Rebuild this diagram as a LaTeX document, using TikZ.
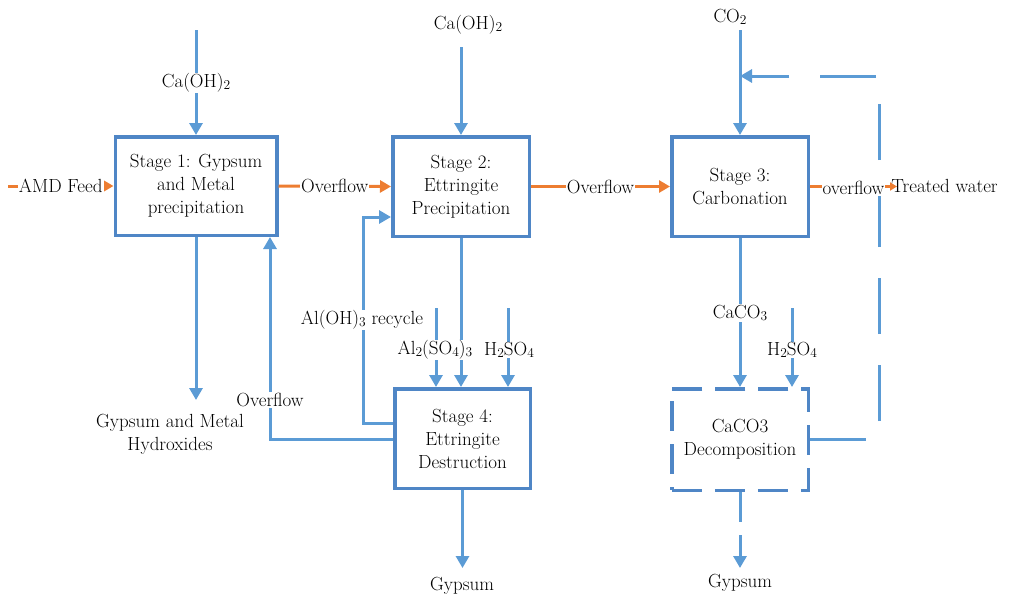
\documentclass[tikz,border=0pt]{standalone}
\usepackage{fontspec}
\usetikzlibrary{arrows.meta}
\definecolor{lineblue}{HTML}{5B9BD5}
\definecolor{boxblue}{HTML}{4F86C6}
\definecolor{orng}{HTML}{ED7D31}
\newcommand\lowsub[1]{\raisebox{-1.5pt}{\fontsize{13.5}{13.5}\selectfont #1}}
\begin{document}
\begin{tikzpicture}[x=1pt,y=-1pt,
  txt/.style={font=\fontsize{19}{23}\selectfont},
  stagebox/.style={draw=boxblue, line width=3.5pt, fill=white, align=center, txt, inner sep=0pt},
  conn/.style={draw=lineblue, line width=3pt, -{Triangle[width=13pt,length=12pt]}},
  oconn/.style={draw=orng, line width=3pt, -{Triangle[width=12pt,length=11pt]}},
  lab/.style={fill=white, inner sep=1pt, txt, align=center},
  freelab/.style={inner sep=1pt, txt, align=center},
  fbdash/.style={dash pattern=on 56pt off 31pt},
  boxdash/.style={dash pattern=on 30pt off 13pt}]
\useasboundingbox (0,0) rectangle (1012,597);

% stage boxes
\node[stagebox, minimum width=161.5pt, minimum height=98.5pt] (b1) at (196,186) {Stage 1: Gypsum\\and Metal\\precipitation};
\node[stagebox, minimum width=136.5pt, minimum height=99.5pt] (b2) at (461,186.5) {Stage 2:\\Ettringite\\Precipitation};
\node[stagebox, minimum width=136.5pt, minimum height=99.5pt] (b3) at (740,186.5) {Stage 3:\\Carbonation};
\node[stagebox, minimum width=135.5pt, minimum height=99.5pt] (b4) at (462.5,438.5) {Stage 4:\\Ettringite\\Destruction};
\node[stagebox, boxdash, minimum width=136.5pt, minimum height=101.5pt] (db) at (740,439.5) {CaCO3\\Decomposition};

% coordinates
\coordinate (amd) at (8,186);
\coordinate (ca1) at (196,30);
\coordinate (ca2) at (461,47);
\coordinate (co2) at (740,30);
\coordinate (gmh) at (196,400);
\coordinate (ret) at (270,439);
\coordinate (rc1) at (363,423);
\coordinate (rc2) at (363,217);
\coordinate (al) at (436,308);
\coordinate (h1) at (508,308);
\coordinate (h2) at (792,308);
\coordinate (g1) at (462,568);
\coordinate (g2) at (740,568);
\coordinate (tw) at (897,186.5);
\coordinate (fb1) at (879,439);
\coordinate (fb2) at (879,76);

% blue connectors
\draw[conn] (ca1) -- (b1.north);
\draw[conn] (ca2) -- (b2.north);
\draw[conn] (co2) -- (b3.north);
\draw[conn] (b1.south) -- (gmh);
\draw[conn] (b4.west |- ret) -- (ret) -- (ret |- b1.south);
\draw[conn] (rc1 -| b4.west) -- (rc1) -- (rc2) -- (rc2 -| b2.west);
\draw[conn] (b2.south) -- (b2.south |- b4.north);
\draw[conn] (al) -- (al |- b4.north);
\draw[conn] (h1) -- (h1 |- b4.north);
\draw[conn] (b4.south) -- (b4.south |- g1);
\draw[conn] (b3.south) -- (db.north);
\draw[conn] (h2) -- (h2 |- db.north);
\draw[conn, boxdash] (db.south) -- (g2);
\draw[conn, fbdash] (db.east |- fb1) -- (fb1) -- (fb2) -- (fb2 -| co2);

% orange connectors
\draw[oconn] (amd) -- (b1.west) node[lab, pos=0.5] {AMD Feed};
\draw[oconn] (b1.east) -- (b2.west) node[lab, midway] {Overflow};
\draw[oconn] (b2.east) -- (b3.west) node[lab, midway] {Overflow};
\draw[draw=orng, line width=3pt, -{Triangle[width=8pt,length=7pt]}] (b3.east) -- (tw);
\node[lab] (ovl) at (853.5,188) {overflow};
\node[freelab] (trw) at (944.5,185.5) {Treated water};

% labels
\node[lab] (lca1) at (196,83) {Ca(OH)\lowsub{2}};
\node[freelab] (lca2) at (468,25) {Ca(OH)\lowsub{2}};
\node[freelab] (lco2) at (730,17) {CO\lowsub{2}};
\node[freelab] (lgmh) at (170,434) {Gypsum and Metal\\Hydroxides};
\node[lab] (lov) at (270,400) {Overflow};
\node[lab, inner sep=0.5pt] (lrc) at (362,320) {Al(OH)\lowsub{3} recycle};
\node[lab] (lal) at (435,350) {Al\lowsub{2}(SO\lowsub{4})\lowsub{3}};
\node[lab] (lh1) at (509,350) {H\lowsub{2}SO\lowsub{4}};
\node[lab] (lcc) at (740,313) {CaCO\lowsub{3}};
\node[lab] (lh2) at (792,350) {H\lowsub{2}SO\lowsub{4}};
\node[freelab] (lg1) at (462,586) {Gypsum};
\node[freelab] (lg2) at (740,583) {Gypsum};
\end{tikzpicture}
\end{document}
